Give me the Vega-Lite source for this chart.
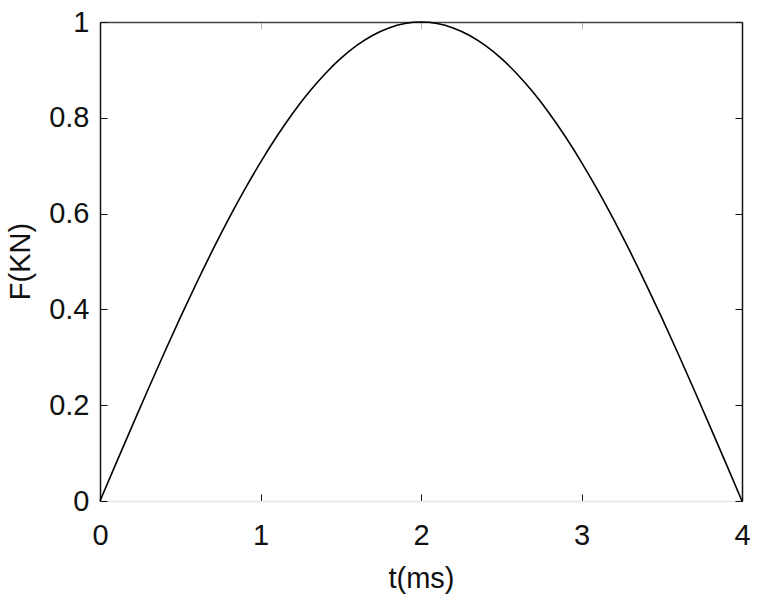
{
  "$schema": "https://vega.github.io/schema/vega-lite/v6.json",
  "width": 642,
  "height": 479,
  "autosize": "none",
  "padding": {"left": 100, "top": 22, "right": 18, "bottom": 102},
  "background": "white",
  "config": {
    "view": {"stroke": null},
    "font": "Liberation Sans",
    "axis": {
      "grid": false,
      "labelFont": "Liberation Sans",
      "titleFont": "Liberation Sans",
      "labelFontSize": 29,
      "titleFontSize": 29,
      "titleFontWeight": "normal",
      "labelColor": "#111",
      "titleColor": "#111",
      "tickColor": "#111",
      "tickSize": -7,
      "labelFlush": false,
      "labelOverlap": false,
      "domainWidth": 1.5
    }
  },
  "data": {
    "values": [
      {"t": 0.0, "F": 0.0},
      {"t": 0.1, "F": 0.0785},
      {"t": 0.2, "F": 0.1564},
      {"t": 0.3, "F": 0.2334},
      {"t": 0.4, "F": 0.309},
      {"t": 0.5, "F": 0.3827},
      {"t": 0.6, "F": 0.454},
      {"t": 0.7, "F": 0.5225},
      {"t": 0.8, "F": 0.5878},
      {"t": 0.9, "F": 0.6494},
      {"t": 1.0, "F": 0.7071},
      {"t": 1.1, "F": 0.7604},
      {"t": 1.2, "F": 0.809},
      {"t": 1.3, "F": 0.8526},
      {"t": 1.4, "F": 0.891},
      {"t": 1.5, "F": 0.9239},
      {"t": 1.6, "F": 0.9511},
      {"t": 1.7, "F": 0.9724},
      {"t": 1.8, "F": 0.9877},
      {"t": 1.9, "F": 0.9969},
      {"t": 2.0, "F": 1.0},
      {"t": 2.1, "F": 0.9969},
      {"t": 2.2, "F": 0.9877},
      {"t": 2.3, "F": 0.9724},
      {"t": 2.4, "F": 0.9511},
      {"t": 2.5, "F": 0.9239},
      {"t": 2.6, "F": 0.891},
      {"t": 2.7, "F": 0.8526},
      {"t": 2.8, "F": 0.809},
      {"t": 2.9, "F": 0.7604},
      {"t": 3.0, "F": 0.7071},
      {"t": 3.1, "F": 0.6494},
      {"t": 3.2, "F": 0.5878},
      {"t": 3.3, "F": 0.5225},
      {"t": 3.4, "F": 0.454},
      {"t": 3.5, "F": 0.3827},
      {"t": 3.6, "F": 0.309},
      {"t": 3.7, "F": 0.2334},
      {"t": 3.8, "F": 0.1564},
      {"t": 3.9, "F": 0.0785},
      {"t": 4.0, "F": 0.0}
    ]
  },
  "layer": [
    {
      "mark": {"type": "line", "color": "#000", "strokeWidth": 1.6, "interpolate": "monotone", "clip": false},
      "encoding": {
        "x": {
          "field": "t", "type": "quantitative",
          "scale": {"domain": [0, 4], "nice": false, "zero": false},
          "axis": {
            "orient": "bottom", "title": "t(ms)", "values": [0, 1, 2, 3, 4],
            "format": "d", "domainColor": "#e4e4e4", "labelPadding": 27,
            "titleX": 321, "titleY": 77, "titleBaseline": "middle"
          }
        },
        "y": {
          "field": "F", "type": "quantitative",
          "scale": {"domain": [0, 1], "nice": false},
          "axis": {
            "orient": "left", "title": "F(KN)", "values": [0, 0.2, 0.4, 0.6, 0.8, 1],
            "format": "~g", "domainColor": "#111", "labelPadding": 18,
            "titleX": -80, "titleY": 239, "titleBaseline": "middle"
          }
        }
      }
    },
    {
      "mark": {"type": "line", "opacity": 0},
      "encoding": {
        "x": {
          "field": "t", "type": "quantitative",
          "axis": {"orient": "top", "title": null, "labels": false, "values": [0, 1, 2, 3, 4], "domainColor": "#444", "tickColor": "#bbb"}
        },
        "y": {
          "field": "F", "type": "quantitative",
          "axis": {"orient": "right", "title": null, "labels": false, "values": [0, 0.2, 0.4, 0.6, 0.8, 1], "domainColor": "#111"}
        }
      }
    }
  ],
  "resolve": {"axis": {"x": "independent", "y": "independent"}}
}
